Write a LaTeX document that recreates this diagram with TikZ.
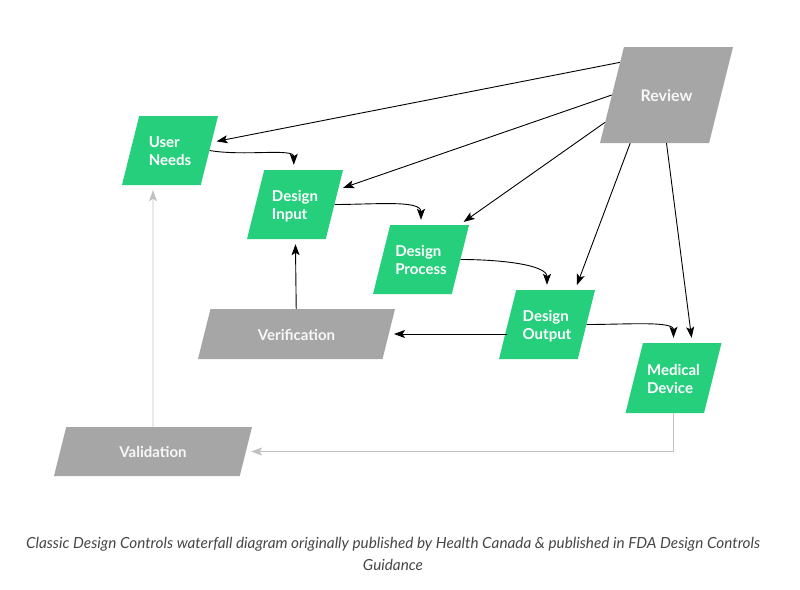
\documentclass[tikz,border=0pt]{standalone}
\usepackage{fontspec}
\setmainfont{Lato}
\usetikzlibrary{shapes.geometric,arrows.meta}
\definecolor{dcgreen}{RGB}{38,207,124}
\definecolor{dcgray}{RGB}{166,166,166}
\definecolor{dcline}{RGB}{192,192,192}
\definecolor{dccaption}{RGB}{70,70,70}
% label of fixed height, so that the slant of the box keeps its angle
\newcommand{\stagetext}[2]{\vbox to #1{\vss\vskip5pt\hbox{\begin{tabular}{@{}l@{}}#2\end{tabular}}\vss}}

\begin{document}
\begin{tikzpicture}[x=1pt,y=-1pt,>={Stealth[length=11pt,width=8pt,inset=2.5pt]},shorten >=5pt]
	\tikzstyle{box}=[shape=trapezium,trapezium left angle=76,trapezium right angle=104,trapezium stretches body=true,inner sep=0pt,text=white,font=\fontsize{15}{18}\selectfont\bfseries]
	\tikzstyle{greenbox}=[box,fill=dcgreen,minimum width=96pt]
	\tikzstyle{graybox}=[box,fill=dcgray,text=white!94!gray]
	\tikzstyle{flow}=[->,black,line width=0.9pt]
	\tikzstyle{back}=[->,dcline,line width=0.9pt]
	
	\useasboundingbox (0,0) rectangle (800,589);
	
	\node[graybox,minimum width=133pt,font=\fontsize{16}{19}\selectfont\bfseries](review) at (666.5,95){\stagetext{96pt}{Review}};
	
	\node[greenbox](userneeds) at (170,150.5){\stagetext{69pt}{User\\Needs}};
	\node[greenbox](dinput) at (295,204.5){\stagetext{69pt}{Design\\Input}};
	\node[greenbox](dprocess) at (421,259.5){\stagetext{69pt}{Design\\Process}};
	\node[greenbox](doutput) at (547,324.5){\stagetext{69pt}{Design\\Output}};
	\node[greenbox](meddev) at (673.5,378){\stagetext{70pt}{Medical\\Device}};
	
	\node[graybox,minimum width=197pt](verif) at (296.5,334){\stagetext{50pt}{Verification}};
	\node[graybox,minimum width=198pt](validation) at (153,451.5){\stagetext{49pt}{Validation}};
	
	\node[font=\fontsize{15.3}{22}\selectfont\itshape,text=dccaption,align=center](caption) at (393,554){Classic Design Controls waterfall diagram originally published by Health Canada \& published in FDA Design Controls\\Guidance};
	
	% review feeds every stage
	\draw[flow] (review.145) -- (userneeds);
	\draw[flow] (review.180) -- (dinput);
	\draw[flow] (review.204) -- (dprocess.42);
	\draw[flow] (review.233) -- (doutput.51);
	\draw[flow] (review.270) -- (meddev.62);
	
	% waterfall
	\draw[flow] (userneeds.east) .. controls +(35,6) and +(0,-22) .. (dinput.92);
	\draw[flow] (dinput.east) .. controls +(40,0) and +(0,-25) .. (dprocess.90);
	\draw[flow] (dprocess.east) .. controls +(40,0) and +(0,-25) .. (doutput.90);
	\draw[flow] (doutput.east) .. controls +(40,0) and +(0,-22) .. (meddev.90);
	
	\draw[flow] (doutput.west |- verif.east) -- (verif.east);
	\draw[flow] (verif) -- (dinput);
	
	\draw[back] (validation) -- (validation |- userneeds.south);
	\draw[back] (meddev) |- (validation);
\end{tikzpicture}
\end{document}
